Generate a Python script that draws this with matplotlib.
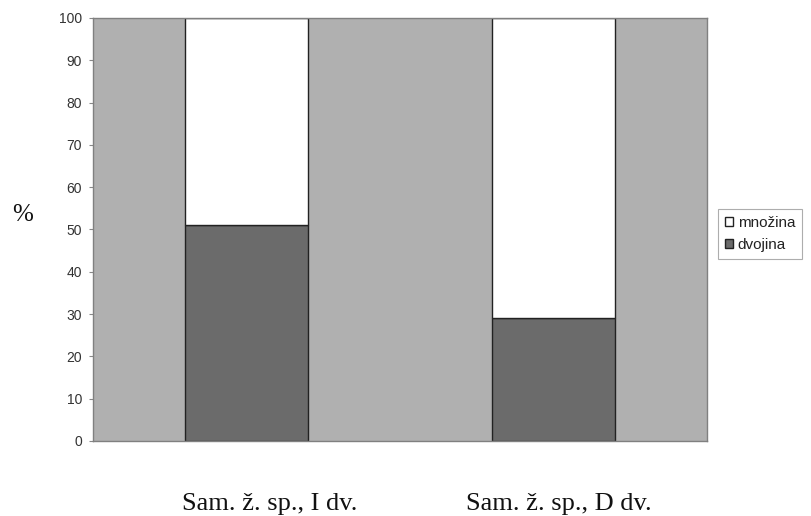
import matplotlib
matplotlib.use("Agg")
import matplotlib.pyplot as plt
import numpy as np

categories = ["Sam. ž. sp., I dv.", "Sam. ž. sp., D dv."]
dvojina = [51, 29]
mnozina = [49, 71]
series_names = ["množina", "dvojina"]
yticks = list(range(0, 101, 10))

fig = plt.figure(figsize=(8.11, 5.16), dpi=100)
ax = fig.add_axes([93/811, 1-441/516, (707-93)/811, (441-18)/516])
ax.set_facecolor("#b0b0b0")

x = np.arange(len(categories))
w = 0.4
b1 = ax.bar(x, dvojina, width=w, color="#6b6b6b", edgecolor="#222222", linewidth=1.0, label=series_names[1])
b2 = ax.bar(x, mnozina, width=w, bottom=dvojina, color="white", edgecolor="#222222", linewidth=1.0, label=series_names[0])

ax.set_xlim(-0.5, 1.5)
ax.set_ylim(0, 100)
ax.set_yticks(yticks)
ax.set_yticklabels([str(t) for t in yticks], fontsize=10, family="Liberation Sans", color="#333333")
ax.set_xticks(x)
ax.set_xticklabels([])
ax.tick_params(axis="x", length=0)
ax.tick_params(axis="y", length=3, color="#888888", direction="out", pad=5)
for s in ax.spines.values():
    s.set_color("#808080")
    s.set_linewidth(1.0)

# category labels (placed as in the reference, slightly off the bar centres)
label_x = [269.5/811, 559/811]
for lx, cat in zip(label_x, categories):
    fig.text(lx, 1-510/516, cat, fontsize=19, family="Liberation Serif",
             ha="center", va="baseline", color="#111111")

fig.text(23/811, 1-215/516, "%", fontsize=18, family="Liberation Serif", ha="center", va="center", color="#111111")

handles = [b2, b1]
leg = ax.legend(handles, series_names, loc="center left", bbox_to_anchor=(718/811, 1-234/516),
                bbox_transform=fig.transFigure, fontsize=11, frameon=True, fancybox=False,
                handlelength=0.55, handleheight=0.55, handletextpad=0.3, borderpad=0.45,
                labelspacing=0.55, borderaxespad=0)
leg.get_frame().set_edgecolor("#999999")
leg.get_frame().set_linewidth(0.8)
for t in leg.get_texts():
    t.set_family("Liberation Sans")
    t.set_color("#222222")

fig.savefig("out.png", dpi=100)
